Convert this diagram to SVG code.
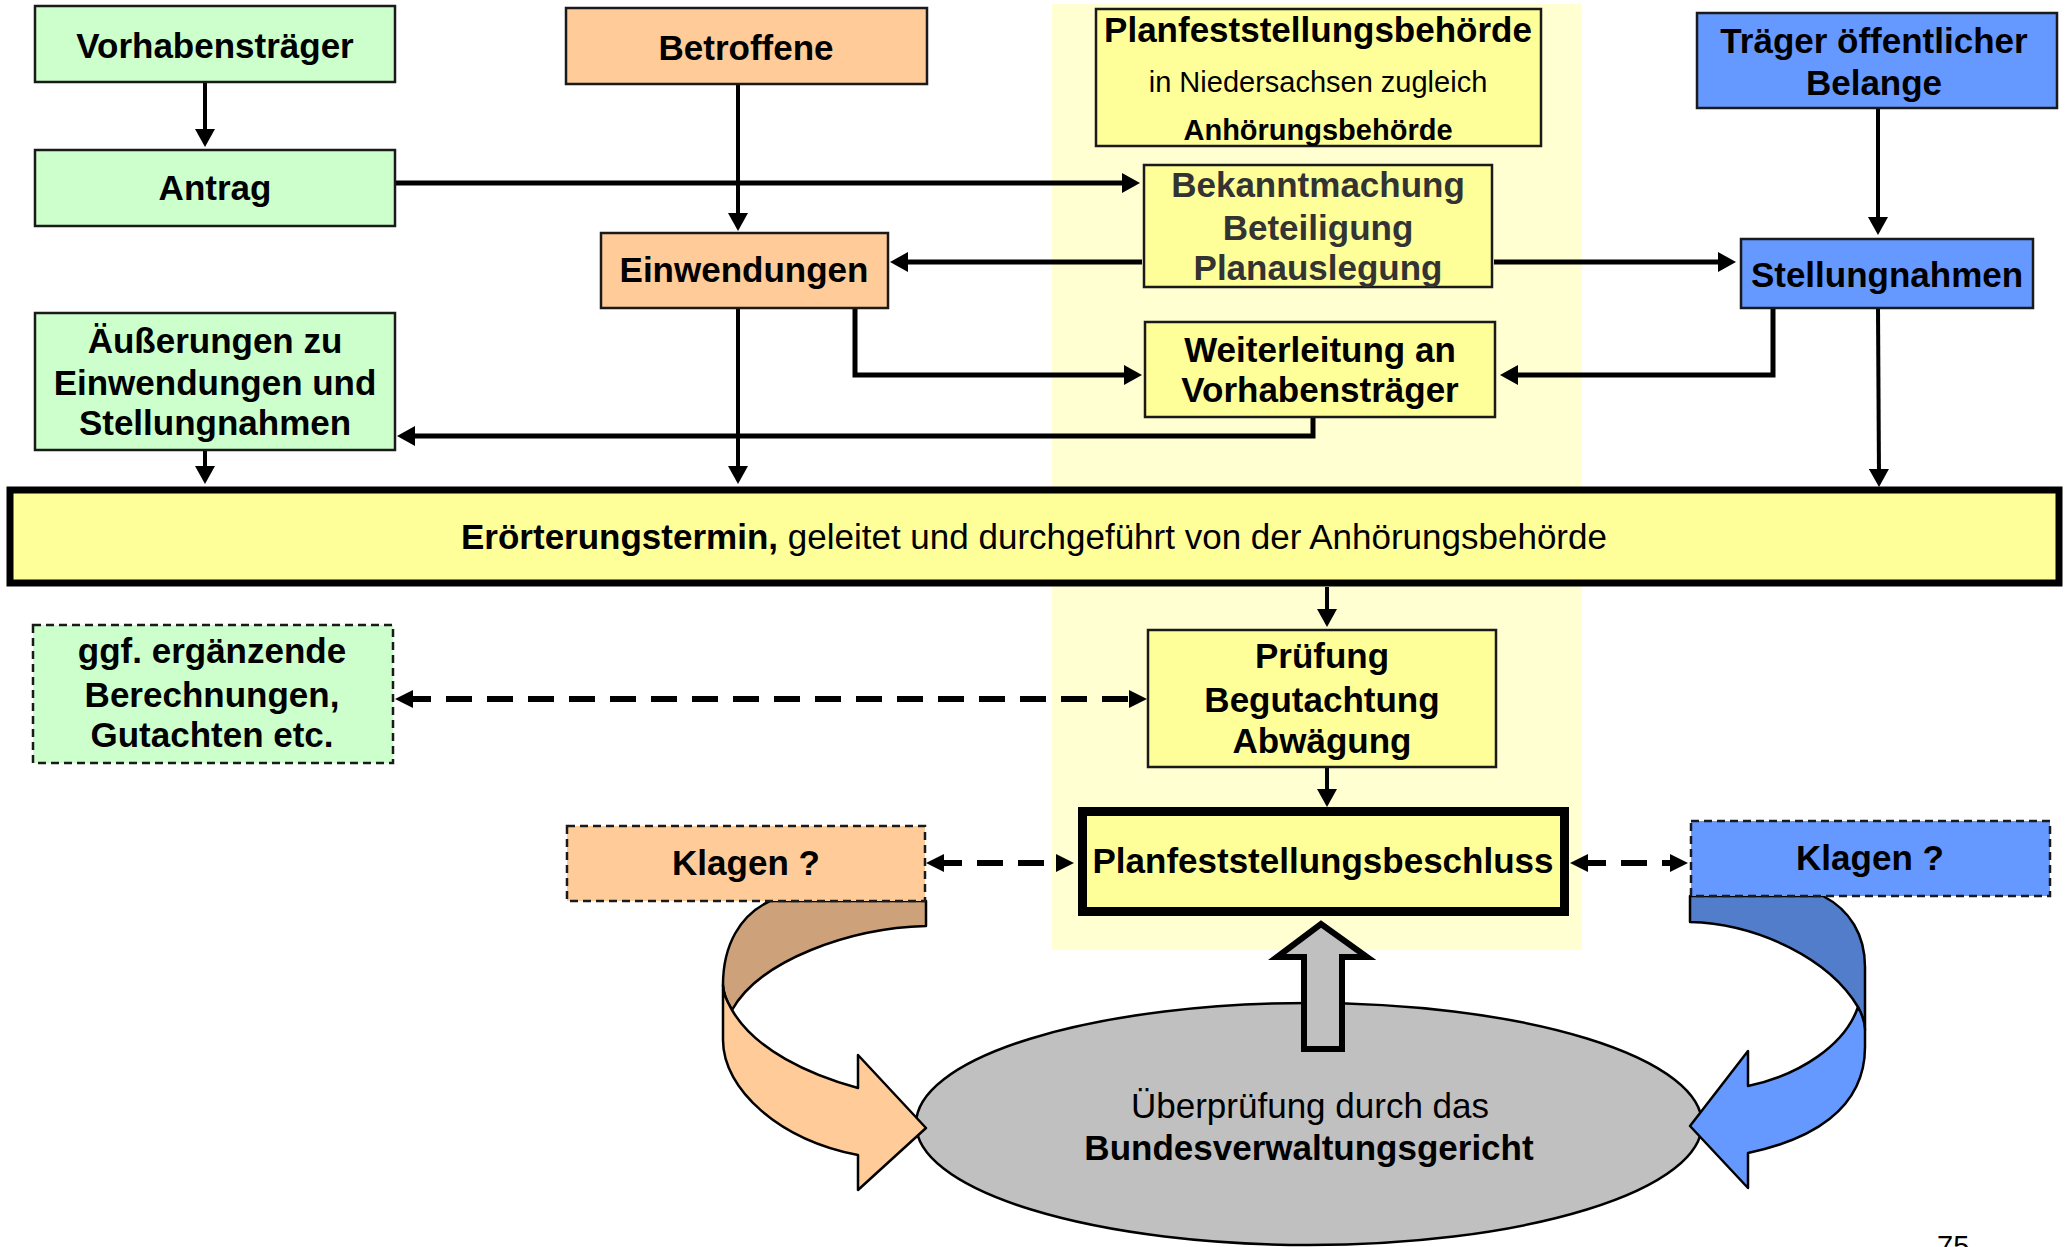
<svg xmlns="http://www.w3.org/2000/svg" width="2069" height="1247" viewBox="0 0 2069 1247">
<style>
text{font-family:"Liberation Sans",Arial,sans-serif;font-size:35px;text-anchor:middle;fill:#000}
.b{font-weight:bold}
.box{stroke:#1a1a1a;stroke-width:2.5}
.dbox{stroke:#1a1a1a;stroke-width:2.5;stroke-dasharray:8 5}
.g{fill:#CCFFCC}.o{fill:#FFCC99}.y{fill:#FFFF99}.bl{fill:#6699FF}
.ln{fill:none;stroke:#000;stroke-width:5}
.lv{fill:none;stroke:#000;stroke-width:4}
.dl{fill:none;stroke:#000;stroke-width:6;stroke-dasharray:26 15}
.sh{stroke:#000;stroke-width:2.5;stroke-linejoin:round}
</style>
<defs>
<marker id="ah" viewBox="0 0 18 20" refX="10" refY="10" markerWidth="18" markerHeight="20" markerUnits="userSpaceOnUse" orient="auto"><path d="M0,0 L18,10 L0,20 Z" fill="#000"/></marker>
<marker id="dh" viewBox="0 0 18 18" refX="8" refY="9" markerWidth="18" markerHeight="18" markerUnits="userSpaceOnUse" orient="auto-start-reverse"><path d="M0,0 L18,9 L0,18 Z" fill="#000"/></marker>
</defs>
<rect x="0" y="0" width="2069" height="1247" fill="#fff"/>
<rect id="column" x="1052" y="4" width="530" height="946" fill="#FFFFD2"/>

<g id="connectors">
<path class="lv" d="M205,82 V139" marker-end="url(#ah)"/>
<path class="ln" d="M295,183 H1132" marker-end="url(#ah)"/>
<path class="lv" d="M738,84 V223" marker-end="url(#ah)"/>
<path class="ln" d="M1142,262 H898" marker-end="url(#ah)"/>
<path class="ln" d="M1494,262 H1728" marker-end="url(#ah)"/>
<path class="lv" d="M1878,108 V227" marker-end="url(#ah)"/>
<path class="ln" d="M855,308 V375 H1134" marker-end="url(#ah)"/>
<path class="ln" d="M1773,308 V375 H1508" marker-end="url(#ah)"/>
<path class="ln" d="M1313,417 V436 H405" marker-end="url(#ah)"/>
<path class="lv" d="M205,450 V476" marker-end="url(#ah)"/>
<path class="lv" d="M738,308 V476" marker-end="url(#ah)"/>
<path class="lv" d="M1878,308 L1879,479" marker-end="url(#ah)"/>
<path class="lv" d="M1327,587 V619" marker-end="url(#ah)"/>
<path class="lv" d="M1327,767 V799" marker-end="url(#ah)"/>
<path class="dl" d="M405,699 H1137" marker-start="url(#dh)" marker-end="url(#dh)"/>
<path class="dl" d="M936,863 H1064" marker-start="url(#dh)" marker-end="url(#dh)"/>
<path class="dl" d="M1580,863 H1678" marker-start="url(#dh)" marker-end="url(#dh)"/>
</g>

<g id="n-vorhabenstraeger"><rect class="box g" x="35" y="6" width="360" height="76"/><text class="b" x="215" y="58">Vorhabensträger</text></g>
<g id="n-antrag"><rect class="box g" x="35" y="150" width="360" height="76"/><text class="b" x="215" y="200">Antrag</text></g>
<g id="n-aeusserungen"><rect class="box g" x="35" y="313" width="360" height="137"/><text class="b" x="215" y="353">Äußerungen zu</text><text class="b" x="215" y="395">Einwendungen und</text><text class="b" x="215" y="435">Stellungnahmen</text></g>
<g id="n-betroffene"><rect class="box o" x="566" y="8" width="361" height="76"/><text class="b" x="746" y="60">Betroffene</text></g>
<g id="n-einwendungen"><rect class="box o" x="601" y="233" width="287" height="75"/><text class="b" x="744" y="282">Einwendungen</text></g>
<g id="n-behoerde"><rect class="box y" x="1096" y="9" width="445" height="137"/><text class="b" x="1318" y="42">Planfeststellungsbehörde</text><text x="1318" y="92" style="font-size:29px">in Niedersachsen zugleich</text><text class="b" x="1318" y="140" style="font-size:29px">Anhörungsbehörde</text></g>
<g id="n-bekanntmachung"><rect class="box y" x="1144" y="165" width="348" height="122"/><text class="b" x="1318" y="197" style="fill:#333">Bekanntmachung</text><text class="b" x="1318" y="240" style="fill:#333">Beteiligung</text><text class="b" x="1318" y="280" style="fill:#333">Planauslegung</text></g>
<g id="n-weiterleitung"><rect class="box y" x="1145" y="322" width="350" height="95"/><text class="b" x="1320" y="362">Weiterleitung an</text><text class="b" x="1320" y="402">Vorhabensträger</text></g>
<g id="n-traeger"><rect class="box bl" x="1697" y="13" width="360" height="95"/><text class="b" x="1874" y="53">Träger öffentlicher</text><text class="b" x="1874" y="95">Belange</text></g>
<g id="n-stellungnahmen"><rect class="box bl" x="1741" y="239" width="292" height="69"/><text class="b" x="1887" y="287">Stellungnahmen</text></g>
<g id="n-eroerterung"><rect x="10" y="490" width="2049" height="93" fill="#FFFF99" stroke="#000" stroke-width="7"/><text x="1034" y="549"><tspan class="b">Erörterungstermin,</tspan> geleitet und durchgeführt von der Anhörungsbehörde</text></g>
<g id="n-ggf"><rect class="dbox g" x="33" y="625" width="360" height="138"/><text class="b" x="212" y="663">ggf. ergänzende</text><text class="b" x="212" y="707">Berechnungen,</text><text class="b" x="212" y="747">Gutachten etc.</text></g>
<g id="n-pruefung"><rect class="box y" x="1148" y="630" width="348" height="137"/><text class="b" x="1322" y="668">Prüfung</text><text class="b" x="1322" y="712">Begutachtung</text><text class="b" x="1322" y="753">Abwägung</text></g>
<g id="n-beschluss"><rect x="1082.5" y="811.5" width="482" height="100" fill="#FFFF99" stroke="#000" stroke-width="9"/><text class="b" x="1323" y="873">Planfeststellungsbeschluss</text></g>

<g id="n-gericht">
<ellipse cx="1309" cy="1124" rx="393" ry="121" fill="#C0C0C0" stroke="#000" stroke-width="2.5"/>
<text x="1310" y="1118">Überprüfung durch das</text>
<text class="b" x="1309" y="1160">Bundesverwaltungsgericht</text>
</g>
<g id="up-arrow"><path d="M1321,924 L1367,957 L1342,957 L1342,1049 L1304,1049 L1304,957 L1277,957 Z" fill="#C0C0C0" stroke="#000" stroke-width="6" stroke-linejoin="miter"/></g>

<g id="curve-left">
<path class="sh" fill="#CDA27B" d="M770,901 L926,901 L926,926 C850,928 760,960 732,1010 Q723,995 723,985 C723,945 740,915 770,901 Z"/>
<path class="sh" fill="#FFCC99" d="M723,985 Q723,995 732,1010 C755,1050 810,1075 858,1088 L858,1055 L926,1128 L858,1190 L858,1155 C780,1140 723,1090 723,1040 Z"/>
</g>
<g id="curve-right">
<path class="sh" fill="#527DCB" d="M1823,896 L1690,896 L1690,922 C1760,924 1830,960 1858,1007 Q1865,1020 1865,1030 L1865,967 C1865,935 1850,910 1823,896 Z"/>
<path class="sh" fill="#6699FF" d="M1858,1007 Q1865,1020 1865,1030 L1865,1047 C1865,1110 1810,1140 1748,1153 L1748,1188 L1690,1126 L1748,1051 L1748,1086 C1800,1075 1845,1045 1858,1007 Z"/>
</g>
<g id="n-klagen-links"><rect class="dbox o" x="567" y="826" width="358" height="75"/><text class="b" x="746" y="875">Klagen ?</text></g>
<g id="n-klagen-rechts"><rect class="dbox bl" x="1691" y="821" width="359" height="75"/><text class="b" x="1870" y="870">Klagen ?</text></g>

<text x="1937" y="1256" style="font-size:29px;text-anchor:start">75</text>
</svg>
